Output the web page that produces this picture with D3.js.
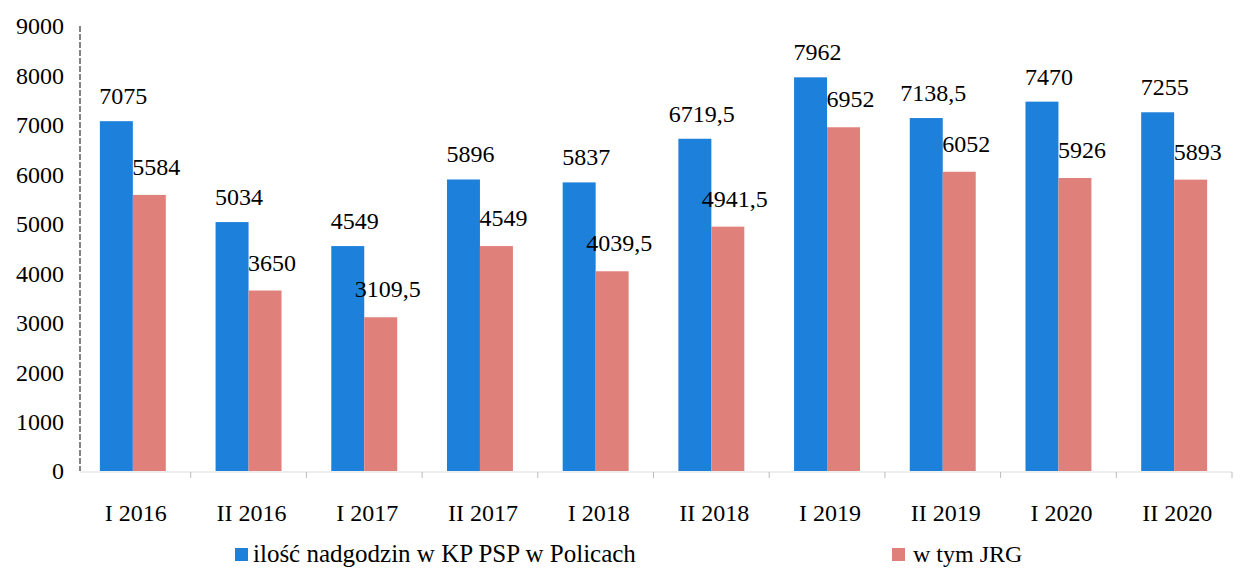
<!DOCTYPE html>
<html>
<head>
<meta charset="utf-8">
<script src="https://cdn.jsdelivr.net/npm/d3@7"></script>
<style>
  body { margin: 0; background: #fff; }
</style>
</head>
<body>
<div id="chart"></div>
<script>
const categories = ["I 2016", "II 2016", "I 2017", "II 2017", "I 2018", "II 2018", "I 2019", "II 2019", "I 2020", "II 2020"];
const totalHours = [7075, 5034, 4549, 5896, 5837, 6719.5, 7962, 7138.5, 7470, 7255];
const jrgHours = [5584, 3650, 3109.5, 4549, 4039.5, 4941.5, 6952, 6052, 5926, 5893];
const yTicks = [0, 1000, 2000, 3000, 4000, 5000, 6000, 7000, 8000, 9000];
const seriesNames = ["ilość nadgodzin w KP PSP w Policach", "w tym JRG"];
const colors = ["#1d80da", "#e0807a"];

const width = 1241, height = 568;
const fontFamily = "'Liberation Serif', monospace";
const fmt = v => String(v).replace(".", ",");

const svg = d3.select("#chart").append("svg")
  .attr("width", width)
  .attr("height", height);

const x = d3.scaleBand()
  .domain(categories)
  .range([75, 1232])
  .paddingInner(0.43)
  .paddingOuter(0.215);

const y = d3.scaleLinear()
  .domain([0, 9000])
  .range([471, 26]);

const sub = d3.scaleBand()
  .domain([0, 1])
  .range([0, x.bandwidth()]);

// y axis
svg.append("line")
  .attr("x1", 80).attr("x2", 80)
  .attr("y1", y(9000)).attr("y2", y(0))
  .attr("stroke", "#333")
  .attr("stroke-width", 1.2)
  .attr("stroke-dasharray", "6,2");

svg.append("g").selectAll("text")
  .data(yTicks)
  .join("text")
  .attr("x", 64)
  .attr("y", d => y(d))
  .attr("dy", "0.35em")
  .attr("text-anchor", "end")
  .style("font-family", fontFamily)
  .style("font-size", "24px")
  .text(d => d);

// x axis
svg.append("line")
  .attr("x1", 80).attr("x2", 1232)
  .attr("y1", y(0) + 1).attr("y2", y(0) + 1)
  .attr("stroke", "#ddd");

svg.append("g").selectAll("line")
  .data(categories)
  .join("line")
  .attr("x1", d => x(d) + x.step() * (1 - x.paddingInner() / 2))
  .attr("x2", d => x(d) + x.step() * (1 - x.paddingInner() / 2))
  .attr("y1", y(0) + 1).attr("y2", y(0) + 7)
  .attr("stroke", "#bbb");

svg.append("g").selectAll("text")
  .data(categories)
  .join("text")
  .attr("x", d => x(d) + x.bandwidth() / 2 + 3)
  .attr("y", 521)
  .attr("text-anchor", "middle")
  .style("font-family", fontFamily)
  .style("font-size", "24px")
  .text(d => d);

// bars
const series = [totalHours, jrgHours];
series.forEach((vals, s) => {
  const g = svg.append("g");
  g.selectAll("rect")
    .data(categories)
    .join("rect")
    .attr("x", d => x(d) + sub(s))
    .attr("y", (d, i) => y(vals[i]))
    .attr("width", sub.bandwidth())
    .attr("height", (d, i) => y(0) - y(vals[i]))
    .attr("fill", colors[s]);

  g.selectAll("text")
    .data(categories)
    .join("text")
    .attr("x", d => x(d) + sub(s) + sub.bandwidth() / 2 + 7)
    .attr("y", (d, i) => y(vals[i]) - (s === 0 ? 17 : 20))
    .attr("text-anchor", "middle")
    .style("font-family", fontFamily)
    .style("font-size", "24px")
    .text((d, i) => fmt(vals[i]));
});

// legend
const legendX = [235, 892];
const legend = svg.append("g").selectAll("g")
  .data(seriesNames)
  .join("g")
  .attr("transform", (d, i) => `translate(${legendX[i]},548)`);

legend.append("rect")
  .attr("width", 13).attr("height", 13)
  .attr("fill", (d, i) => colors[i]);

legend.append("text")
  .attr("x", (d, i) => i === 0 ? 18 : 21)
  .attr("y", 14)
  .style("font-family", fontFamily)
  .style("font-size", (d, i) => i === 0 ? "25px" : "24px")
  .text(d => d);
</script>
</body>
</html>
